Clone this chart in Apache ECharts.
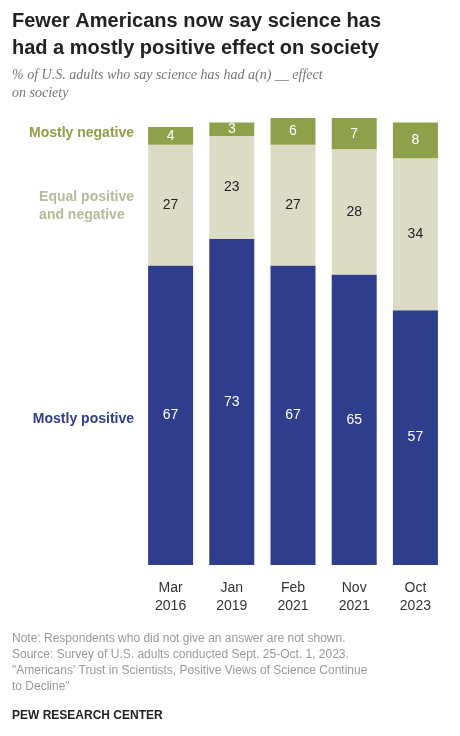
<!DOCTYPE html>
<html><head><meta charset="utf-8">
<script src="https://cdn.jsdelivr.net/npm/echarts@6/dist/echarts.min.js"></script>
<style>body{margin:0}#c{width:460px;height:736px}</style></head>
<body><div id="c"></div>
<script>
const categories = ['Mar\n2016','Jan\n2019','Feb\n2021','Nov\n2021','Oct\n2023'];
const mostlyPositive = [67,73,67,65,57];
const equalPosNeg = [27,23,27,28,34];
const mostlyNegative = [4,3,6,7,8];
const chart = echarts.init(document.getElementById('c'));
const lbl = c => ({show:true,position:'inside',color:c,fontSize:14,fontFamily:'Liberation Sans'});
chart.setOption({
  animation:false,
  grid:{left:140,right:14,top:118,bottom:171},
  xAxis:{type:'category',data:categories,axisTick:{show:false},axisLine:{show:false},
    axisLabel:{color:'#333',fontSize:14,lineHeight:18,margin:14,fontFamily:'Liberation Sans'}},
  yAxis:{type:'value',min:0,max:100,show:false},
  series:[
    {type:'bar',stack:'a',data:mostlyPositive,barWidth:45,itemStyle:{color:'#2e3d8c'},label:lbl('#fff')},
    {type:'bar',stack:'a',data:equalPosNeg,itemStyle:{color:'#dcdcc6'},label:lbl('#222')},
    {type:'bar',stack:'a',data:mostlyNegative,itemStyle:{color:'#8fa04a'},label:lbl('#fff')}
  ],
  graphic:[
    {type:'text',left:12,top:8,style:{text:'Fewer Americans now say science has\nhad a mostly positive effect on society',font:'bold 20px Liberation Sans',lineHeight:27,fill:'#222'}},
    {type:'text',left:12,top:66,style:{text:'% of U.S. adults who say science has had a(n) __ effect\non society',font:'italic 14px Liberation Serif',lineHeight:18,fill:'#777'}},
    {type:'text',right:326,top:126,style:{text:'Mostly negative',font:'bold 14px Liberation Sans',fill:'#8fa04a',align:'right'}},
    {type:'text',right:326,top:188,style:{text:'Equal positive\nand negative',font:'bold 14px Liberation Sans',lineHeight:18,fill:'#b7b99a',align:'right'}},
    {type:'text',right:326,top:412,style:{text:'Mostly positive',font:'bold 14px Liberation Sans',fill:'#2e3d8c',align:'right'}},
    {type:'text',left:12,top:631,style:{text:'Note: Respondents who did not give an answer are not shown.\nSource: Survey of U.S. adults conducted Sept. 25-Oct. 1, 2023.\n"Americans\' Trust in Scientists, Positive Views of Science Continue\nto Decline"',font:'12px Liberation Sans',lineHeight:16,fill:'#999'}},
    {type:'text',left:12,top:710,style:{text:'PEW RESEARCH CENTER',font:'bold 12px Liberation Sans',fill:'#222'}}
  ]
});
</script></body></html>
